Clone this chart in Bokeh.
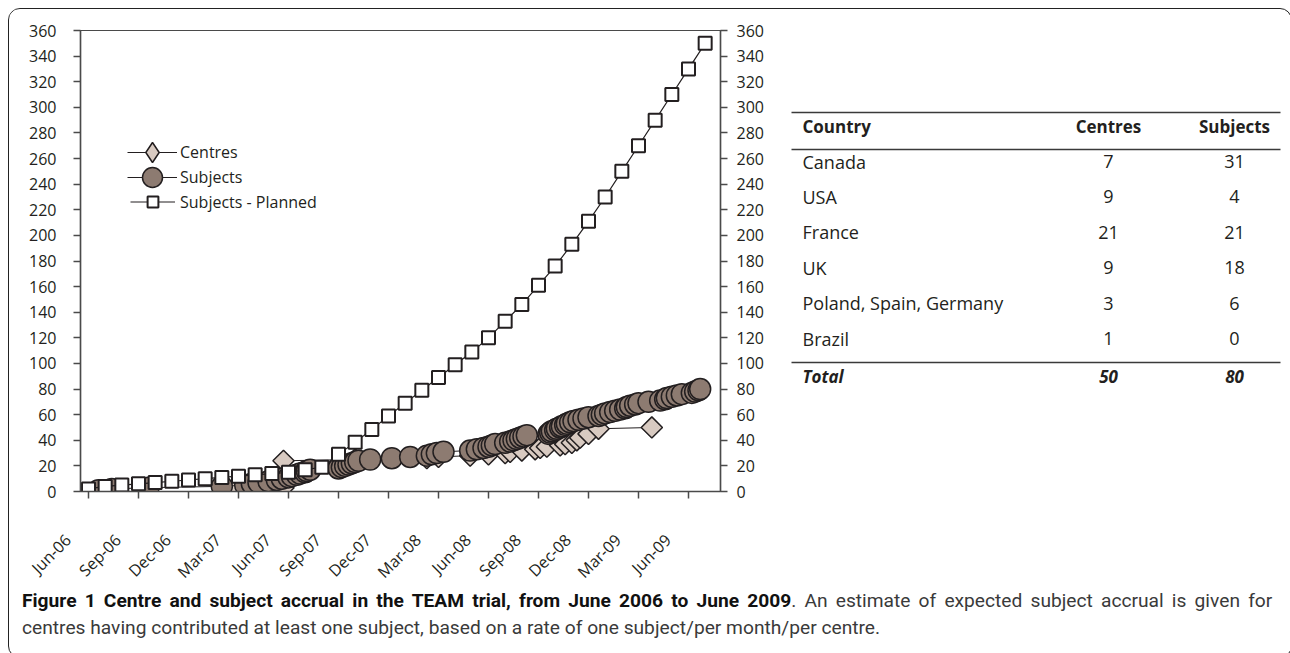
import math
from bokeh.plotting import figure
from bokeh.models import Range1d, LinearAxis, FixedTicker, Legend, LegendItem, Div
from bokeh.layouts import row, column
from bokeh.embed import file_html
from bokeh.resources import INLINE
from bokeh.core.properties import value

# ---------------- data ----------------
# months counted from June 2006 (0 = Jun-06)
planned_month = list(range(38))
planned_subjects = [2, 4, 5, 6, 7, 8, 9, 10, 11, 12, 13, 14, 15, 17, 19, 29, 38.5, 48.5, 59, 69,
                    79, 89, 99, 109, 120, 133, 146, 161, 176, 193, 211, 230, 250, 270, 290, 310,
                    330, 350]

subject_month = [0.6, 1.4, 3.6, 8.0, 9.4, 9.8, 10.2, 10.8, 11.3, 11.6, 12.0, 12.2, 12.5, 12.7,
                 13.0, 13.1, 13.3, 15.0, 15.2, 15.4, 15.6, 15.8, 16.0, 16.2, 16.9, 18.2, 19.3,
                 20.3, 20.6, 20.9, 21.3, 22.9, 23.3, 23.7, 24.0, 24.2, 24.4, 25.0, 25.3, 25.5,
                 25.7, 25.9, 26.1, 26.3, 27.6, 27.7, 27.8, 28.0, 28.1, 28.3, 28.4, 28.6, 28.7,
                 28.9, 29.1, 29.4, 29.7, 30.0, 30.6, 30.8, 31.0, 31.3, 31.6, 31.9, 32.2, 32.3,
                 32.5, 32.8, 33.0, 33.6, 34.3, 34.6, 34.7, 35.0, 35.3, 35.6, 36.2, 36.4, 36.6,
                 36.7]
subject_count = list(range(1, 81))

centre_month = [8.8, 9.9, 11.7, 11.7, 16.0, 20.3, 21.0, 22.9, 24.0, 25.0, 25.3, 26.0, 26.8,
                27.1, 27.5, 28.3, 28.6, 29.0, 29.3, 29.5, 30.0, 30.6, 33.8]
centre_count = [1, 2, 3, 24, 25, 26, 27, 28, 29, 30, 31, 32, 33, 34, 35, 36, 37, 38, 40, 42,
                45, 49, 50]

tick_months = [0, 3, 6, 9, 12, 15, 18, 21, 24, 27, 30, 33, 36]
tick_labels = ["Jun-06", "Sep-06", "Dec-06", "Mar-07", "Jun-07", "Sep-07", "Dec-07",
               "Mar-08", "Jun-08", "Sep-08", "Dec-08", "Mar-09", "Jun-09"]
y_ticks = list(range(0, 361, 20))

countries = ["Canada", "USA", "France", "UK", "Poland, Spain, Germany", "Brazil"]
centres_by_country = [7, 9, 21, 9, 3, 1]
subjects_by_country = [31, 4, 21, 18, 6, 0]
table_header = ["Country", "Centres", "Subjects"]

caption_bold = "Figure 1 Centre and subject accrual in the TEAM trial, from June 2006 to June 2009"
caption_line1_rest = ". An estimate of expected subject accrual is given for"
caption_line2 = ("centres having contributed at least one subject, based on a rate of one "
                 "subject/per month/per centre.")

# ---------------- style ----------------
FONT = "Open Sans"
INK = "#231f20"
AXIS = "#4a4a4a"
NBSP_PAD = "\u00a0" * 7   # slides the rotated date labels down-left of their ticks
FIG_H = 586
BOTTOM = 104

p = figure(width=765, height=FIG_H, x_range=Range1d(-0.48, 37.92), y_range=Range1d(0, 360),
           output_backend="svg", toolbar_location=None,
           min_border_left=71, min_border_right=54, min_border_top=21, min_border_bottom=BOTTOM)
p.xgrid.visible = False
p.ygrid.visible = False
p.outline_line_color = AXIS
p.outline_line_width = 1.2
p.background_fill_color = "white"
p.border_fill_color = "white"

p.add_layout(LinearAxis(), "right")

for ax in p.axis:
    ax.axis_line_color = AXIS
    ax.axis_line_width = 1.5
    ax.major_tick_line_color = AXIS
    ax.major_tick_line_width = 1.5
    ax.major_tick_in = 0
    ax.major_tick_out = 7
    ax.minor_tick_line_color = None
    ax.major_label_text_font = FONT
    ax.major_label_text_font_size = "16px"
    ax.major_label_text_color = INK

for ax in p.yaxis:
    ax.ticker = FixedTicker(ticks=y_ticks)
p.yaxis[0].major_label_standoff = 17
p.yaxis[1].major_label_standoff = 9

xa = p.xaxis[0]
xa.ticker = FixedTicker(ticks=tick_months)
xa.major_label_overrides = {m: lab + NBSP_PAD for m, lab in zip(tick_months, tick_labels)}
xa.major_label_orientation = math.pi / 4
xa.major_label_standoff = 18

c_line = p.line(centre_month, centre_count, line_color=INK, line_width=1)
c_pts = p.scatter(centre_month, centre_count, marker="square", angle=math.pi / 4, size=15,
                  fill_color="#d8cac1", line_color=INK, line_width=1.5)
s_line = p.line(subject_month, subject_count, line_color=INK, line_width=1)
s_pts = p.scatter(subject_month, subject_count, marker="circle", size=21,
                  fill_color="#8d7b71", line_color=INK, line_width=1.5)
pl_line = p.line(planned_month, planned_subjects, line_color=INK, line_width=1.2)
pl_pts = p.scatter(planned_month, planned_subjects, marker="square", size=13,
                   fill_color="white", line_color=INK, line_width=2)
# hidden proxy used only for the legend key of the centres (diamond shape)
c_key = p.scatter(centre_month, centre_count, marker="diamond", size=20,
                  fill_color="#d8cac1", line_color=INK, line_width=1.5, visible=False)


def one_legend(label, rends, loc, gw, gh, standoff):
    return Legend(items=[LegendItem(label=label, renderers=rends)], location=loc,
                  glyph_width=gw, glyph_height=gh, padding=0, margin=0,
                  label_standoff=standoff, border_line_color=None, background_fill_alpha=0,
                  inactive_fill_alpha=0, label_text_font=FONT, label_text_font_size="16px",
                  label_text_color=INK, label_text_baseline="middle")


p.add_layout(one_legend("Centres", [c_line, c_key], (47, 314), 50, 50, 3))
p.add_layout(one_legend("Subjects", [s_line, s_pts], (47, 289), 50, 50, 3))
p.add_layout(one_legend("Subjects - Planned", [pl_line, pl_pts], (50, 276), 45, 27, 5))

# ---------------- table (drawn in page-like pixel units) ----------------
t = figure(width=507, height=FIG_H, x_range=Range1d(774, 1281), y_range=Range1d(491, 30),
           output_backend="svg", toolbar_location=None,
           min_border_left=0, min_border_right=0, min_border_top=21, min_border_bottom=BOTTOM,
           x_axis_location=None, y_axis_location=None)
t.xgrid.visible = False
t.ygrid.visible = False
t.outline_line_color = None
t.border_fill_color = "white"
t.background_fill_color = "white"

col_x = [802, 1108, 1234]
header_y = 126
first_row_y = 161
row_step = 35.4
total_y = 376
rule_y = [112, 149, 362]

t.segment(x0=[791] * 3, y0=rule_y, x1=[1280] * 3, y1=rule_y, line_color="#3a3a3a",
          line_width=1.5)
t.text(x=col_x, y=[header_y] * 3, text=table_header,
       text_align=["left", "center", "center"], text_baseline="middle",
       text_font=value(FONT), text_font_size="17px", text_font_style="bold", text_color=INK)
rows_y = [first_row_y + i * row_step for i in range(len(countries))]
t.text(x=[col_x[0]] * len(countries), y=rows_y, text=countries, text_align="left",
       text_baseline="middle", text_font=value(FONT), text_font_size="18px", text_color=INK)
t.text(x=[col_x[1]] * len(countries), y=rows_y, text=[str(v) for v in centres_by_country],
       text_align="center", text_baseline="middle", text_font=value(FONT),
       text_font_size="18px", text_color=INK)
t.text(x=[col_x[2]] * len(countries), y=rows_y, text=[str(v) for v in subjects_by_country],
       text_align="center", text_baseline="middle", text_font=value(FONT),
       text_font_size="18px", text_color=INK)
t.text(x=col_x, y=[total_y] * 3,
       text=["Total", str(sum(centres_by_country)), str(sum(subjects_by_country))],
       text_align=["left", "center", "center"], text_baseline="middle",
       text_font=value(FONT), text_font_size="17px", text_font_style="bold italic",
       text_color=INK)

cap_html = ('<div style="position: relative; top: -13px;">'
            '<div style="display: block; white-space: nowrap; word-spacing: 3.4px;">'
            '<span style="font-weight: bold; color: #111;">' + caption_bold + '</span>'
            '<span>' + caption_line1_rest + '</span></div>'
            '<div style="display: block; white-space: nowrap;">' + caption_line2 + '</div>'
            '</div>')
cap = Div(text=cap_html, width=1272, height=52,
          styles={"font-family": "Roboto, sans-serif", "font-size": "19.2px",
                  "line-height": "27px", "color": "#3a3a3a",
                  "padding": "0px 6px 0px 8px", "box-sizing": "border-box",
                  "overflow": "visible"})

layout = column(row(p, t, spacing=0), cap, spacing=0, margin=(8, 0, 0, 8),
                styles={"border": "1px solid #222", "border-radius": "12px",
                        "background": "white", "overflow": "hidden"})

open("out.html", "w").write(file_html(layout, INLINE))
